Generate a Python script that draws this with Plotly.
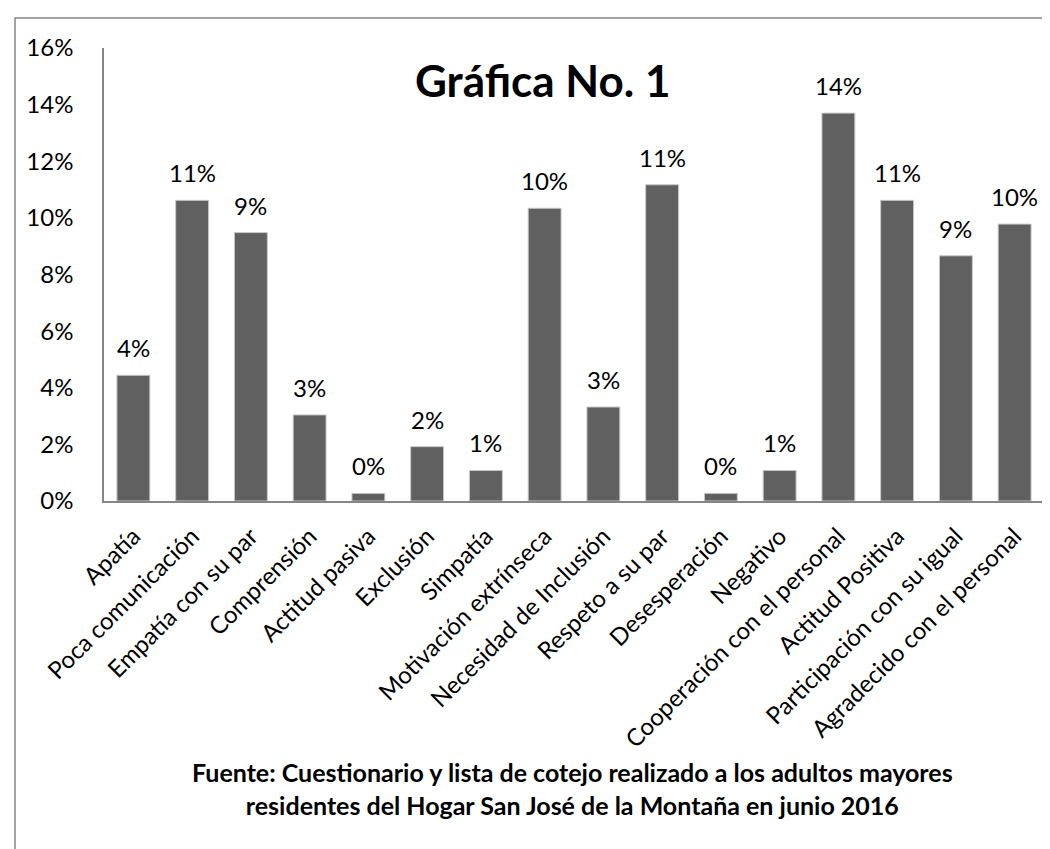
import plotly.graph_objects as go

categories = ["Apatía", "Poca comunicación", "Empatía con su par", "Comprensión",
              "Actitud pasiva", "Exclusión", "Simpatía", "Motivación extrínseca",
              "Necesidad de Inclusión", "Respeto a su par", "Desesperación", "Negativo",
              "Cooperación con el personal", "Actitud Positiva",
              "Participación con su igual", "Agradecido con el personal"]
values = [0.0444, 0.1062, 0.0948, 0.0304, 0.0027, 0.0192, 0.0108, 0.1034,
          0.0332, 0.1117, 0.0027, 0.0108, 0.1370, 0.1062, 0.0866, 0.0978]
y_ticks = [0, 0.02, 0.04, 0.06, 0.08, 0.10, 0.12, 0.14, 0.16]
y_tick_labels = ["0%", "2%", "4%", "6%", "8%", "10%", "12%", "14%", "16%"]
title_text = "Gráfica No. 1"
source_text = ("Fuente: Cuestionario y lista de cotejo realizado a los adultos mayores<br>"
               "residentes del Hogar San José de la Montaña en junio 2016")

W, H = 1050, 849
L, R, T, B = 96, 14, 40, 356
PW, PH = W - L - R, H - T - B

def px(x):
    return (x - L) / PW

def py(y):
    return (H - B - y) / PH

FONT = "Lato, 'Open Sans', sans-serif"

fig = go.Figure()
fig.add_trace(go.Bar(
    x=categories, y=values,
    marker=dict(color="#606060", line=dict(color="#c8c8c8", width=1)),
    hoverinfo="x+y",
))

annotations = []
for c, v in zip(categories, values):
    annotations.append(dict(
        x=c, y=v, xref="x", yref="y", text=f"{round(v * 100):.0f}%",
        showarrow=False, yanchor="bottom", yshift=11,
        font=dict(family=FONT, size=24, color="#000000"),
    ))

annotations.append(dict(
    x=px(535), y=py(72), xref="paper", yref="paper", text=f"<b>{title_text}</b>",
    showarrow=False, xanchor="center", yanchor="middle",
    font=dict(family=FONT, size=44, color="#000000"),
))
annotations.append(dict(
    x=px(564), y=py(780), xref="paper", yref="paper", text=f"<b>{source_text}</b>",
    showarrow=False, xanchor="center", yanchor="middle", align="center",
    font=dict(family=FONT, size=25, color="#000000"),
))

fig.update_layout(
    width=W, height=H,
    margin=dict(l=L, r=R, t=T, b=B, autoexpand=False),
    paper_bgcolor="white", plot_bgcolor="white",
    showlegend=False,
    bargap=0.44,
    annotations=annotations,
    font=dict(family=FONT, size=24, color="#000000"),
    shapes=[dict(type="rect", xref="paper", yref="paper",
                 x0=px(7), y0=py(900), x1=px(1100), y1=py(10),
                 line=dict(color="#868686", width=1.5), layer="below")],
)
fig.update_xaxes(
    tickangle=-45, showline=True, linecolor="#868686", linewidth=1.5,
    showgrid=False, ticks="", tickfont=dict(family=FONT, size=24, color="#000000"),
    ticklabelstandoff=10,
)
fig.update_yaxes(
    range=[0, 0.16], tickvals=y_ticks, ticktext=y_tick_labels,
    showline=True, linecolor="#868686", linewidth=1.5, showgrid=False,
    zeroline=False, ticks="", tickfont=dict(family=FONT, size=24, color="#000000"),
    ticklabelstandoff=24,
)

fig.write_html("out.html")
